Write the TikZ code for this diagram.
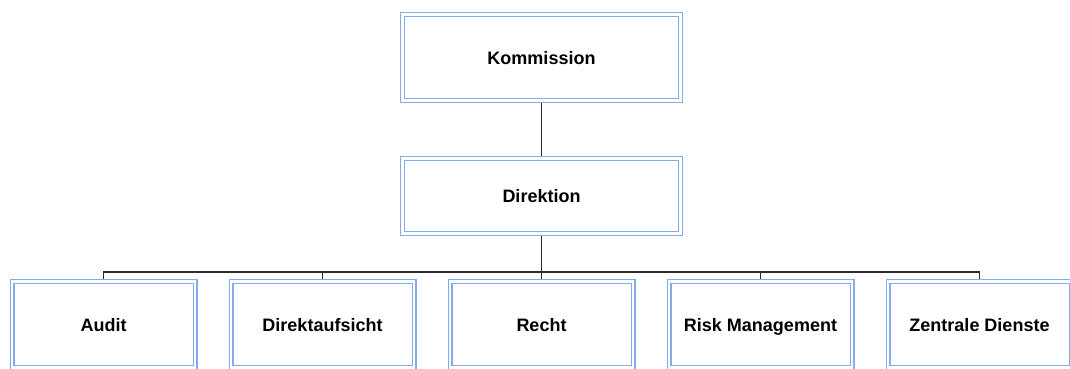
\documentclass[tikz,border=0pt]{standalone}
\usepackage{fontspec}
\setmainfont{Liberation Sans}
\usetikzlibrary{positioning}
\definecolor{unitBlue}{HTML}{86ABEA}
\definecolor{linkInk}{HTML}{2B2B2B}

\begin{document}
\begin{tikzpicture}[node distance=43pt and 31pt,
      unit/.style={draw=unitBlue, double=white, double distance=2.2pt, line width=1.4pt,
        outer sep=2.5pt, fill=white, align=center, text height=13pt, text depth=0pt,
        font=\fontsize{18}{21}\selectfont\bfseries},
      top/.style={unit, minimum width=278pt, minimum height=86pt},
      dept/.style={unit, minimum width=183pt, minimum height=86pt},
      link/.style={draw=linkInk, line width=1.2pt}]
    \useasboundingbox (0,0) rectangle (1070pt,-368pt);
    \node[top] (komm) at (541.5pt,-57.5pt) {Kommission};
    \node[top, minimum height=75pt, below=53pt of komm] (dir) {Direktion};
    \node[dept, below=of dir] (recht) {Recht};
    \node[dept, left=of recht] (aufsicht) {Direktaufsicht};
    \node[dept, left=of aufsicht] (audit) {Audit};
    \node[dept, right=of recht] (risk) {Risk Management};
    \node[dept, right=of risk] (dienste) {Zentrale Dienste};
    \draw[link] (komm.south) -- (dir.south |- dir.north);
    \foreach \d in {audit,aufsicht,recht,risk,dienste} {
      \draw[link] (dir.south) -- ++(0,-36pt) -| (\d.north);
    }
  \end{tikzpicture}
\end{document}
